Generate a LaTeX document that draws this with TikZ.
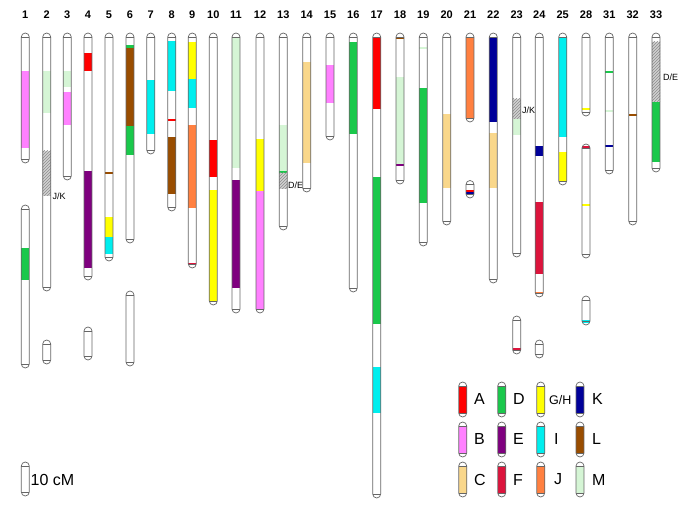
\documentclass[tikz,border=0pt]{standalone}
\usepackage{fontspec}
\setmainfont{Liberation Sans}
\usetikzlibrary{patterns}
\definecolor{cA}{HTML}{FF0000}
\definecolor{cB}{HTML}{FF80FF}
\definecolor{cC}{HTML}{F9D78B}
\definecolor{cD}{HTML}{1AC84B}
\definecolor{cE}{HTML}{7F007F}
\definecolor{cF}{HTML}{DC143C}
\definecolor{cG}{HTML}{FFFF00}
\definecolor{cI}{HTML}{00EEEE}
\definecolor{cJ}{HTML}{FF8040}
\definecolor{cK}{HTML}{000099}
\definecolor{cL}{HTML}{994D00}
\definecolor{cM}{HTML}{D5F5D5}
\tikzset{
  chrline/.style={draw=black!60, line width=0.7pt},
  numlabel/.style={font=\fontsize{11}{13}\selectfont\bfseries, inner sep=0pt},
  smalllabel/.style={font=\fontsize{9}{11}\selectfont, inner sep=0pt, anchor=west},
  leglabel/.style={font=\fontsize{16}{18}\selectfont, inner sep=0pt, anchor=west},
}
% chromosome outline: x, top, bottom (pixel coordinates, y downwards)
\newcommand{\chrm}[3]{%
  \draw[chrline] ({#1-4},{-(#2+4)}) arc[start angle=180,end angle=0,radius=4]
     -- ({#1+4},{-(#3-4)}) arc[start angle=0,end angle=-180,radius=4] -- cycle;
  \draw[chrline] ({#1-4},{-(#2+4)}) -- ({#1+4},{-(#2+4)})
                 ({#1-4},{-(#3-4)}) -- ({#1+4},{-(#3-4)});
}
% coloured segment: x, y1, y2, colour
\newcommand{\bnd}[4]{\fill[#4] ({#1-4},{-(#2)}) rectangle ({#1+4},{-(#3)});}
% hatched segment: x, y1, y2
\newcommand{\htch}[3]{%
  \fill[black!18] ({#1-4},{-(#2)}) rectangle ({#1+4},{-(#3)});
  \fill[pattern=north east lines, pattern color=black!45] ({#1-4},{-(#2)}) rectangle ({#1+4},{-(#3)});
}
\begin{document}
\begin{tikzpicture}[x=1pt,y=1pt]
\useasboundingbox (0,0) rectangle (685,-513);
\fill[white] (0,0) rectangle (685,-513);

% chromosome numbers
\foreach \xx/\lab in {25.3/1,46.7/2,67.3/3,88/4,109/5,130/6,150.7/7,171.7/8,192.3/9,213.3/10,
  236/11,260/12,283.3/13,306.7/14,330/15,353.3/16,376.7/17,400/18,423.3/19,446.7/20,
  470/21,493.3/22,516.7/23,539.3/24,562.7/25,586/28,609.3/31,632.7/32,656/33}
  \node[numlabel] (n\lab) at (\xx,-15) {\lab};

% 1
\bnd{25.3}{71}{148}{cB}
\chrm{25.3}{33}{163}
\bnd{25.3}{248}{280}{cD}
\chrm{25.3}{205}{368}
% 2
\bnd{46.7}{71}{113}{cM}
\htch{46.7}{151}{196}
\chrm{46.7}{33}{291}
\node[smalllabel] (jk2) at (52.5,-196) {J/K};
\chrm{46.7}{340}{364}
% 3
\bnd{67.3}{71}{87}{cM}
\bnd{67.3}{92}{125}{cB}
\chrm{67.3}{33}{180}
% 4
\bnd{88}{53}{71}{cA}
\bnd{88}{171}{268}{cE}
\chrm{88}{33}{280}
\chrm{88}{327}{360}
% 5
\bnd{109}{172.5}{174}{cL}
\bnd{109}{217}{237}{cG}
\bnd{109}{237}{254}{cI}
\chrm{109}{33}{261}
% 6
\bnd{130}{45.5}{48}{cD}
\bnd{130}{48}{126}{cL}
\bnd{130}{126}{155}{cD}
\chrm{130}{33}{243}
\chrm{130}{291}{366}
% 7
\bnd{150.7}{80}{134}{cI}
\chrm{150.7}{33}{154}
% 8
\bnd{171.7}{41}{91}{cI}
\bnd{171.7}{119}{121}{cA}
\bnd{171.7}{137}{194}{cL}
\chrm{171.7}{33}{211}
% 9
\bnd{192.3}{42}{79}{cG}
\bnd{192.3}{79}{108}{cI}
\bnd{192.3}{125}{208}{cJ}
\bnd{192.3}{262.5}{265}{cF}
\chrm{192.3}{33}{268}
% 10
\bnd{213.3}{140}{177}{cA}
\bnd{213.3}{190}{301}{cG}
\chrm{213.3}{33}{305}
% 11
\bnd{236}{37}{168}{cM}
\bnd{236}{180}{288}{cE}
\chrm{236}{33}{313}
% 12
\bnd{260}{139}{191}{cG}
\bnd{260}{191}{309}{cB}
\chrm{260}{33}{313}
% 13
\bnd{283.3}{125}{171}{cM}
\bnd{283.3}{171}{173}{cD}
\htch{283.3}{173}{189}
\chrm{283.3}{33}{230}
\node[smalllabel] (de13) at (288,-185) {D/E};
% 14
\bnd{306.7}{62}{163}{cC}
\chrm{306.7}{33}{192}
% 15
\bnd{330}{65}{103}{cB}
\chrm{330}{33}{140}
% 16
\bnd{353.3}{42}{134}{cD}
\chrm{353.3}{33}{292}
% 17
\bnd{376.7}{37}{109}{cA}
\bnd{376.7}{177}{324}{cD}
\bnd{376.7}{367}{413}{cI}
\chrm{376.7}{33}{498}
% 18
\bnd{400}{37}{39}{cL}
\bnd{400}{77}{164}{cM}
\bnd{400}{164}{166}{cE}
\chrm{400}{33}{184}
% 19
\bnd{423.3}{47}{49}{cM}
\bnd{423.3}{88}{203}{cD}
\chrm{423.3}{33}{246}
% 20
\bnd{446.7}{114}{188}{cC}
\chrm{446.7}{33}{225}
% 21
\bnd{470}{37}{119}{cJ}
\chrm{470}{33}{122}
\bnd{470}{190.5}{192.5}{cA}
\bnd{470}{192.5}{194.5}{cK}
\chrm{470}{180.5}{198}
% 22
\bnd{493.3}{37}{122}{cK}
\bnd{493.3}{133}{188}{cC}
\chrm{493.3}{33}{283}
% 23
\htch{516.7}{99}{119}
\bnd{516.7}{119}{135}{cM}
\chrm{516.7}{33}{257}
\node[smalllabel] (jk23) at (522,-110) {J/K};
\bnd{516.7}{347.5}{350}{cF}
\chrm{516.7}{316}{354}
% 24
\bnd{539.3}{146}{156}{cK}
\bnd{539.3}{202}{274}{cF}
\bnd{539.3}{291.5}{293.5}{cJ}
\chrm{539.3}{33}{297}
\chrm{539.3}{340}{358}
% 25
\bnd{562.7}{37}{137}{cI}
\bnd{562.7}{152}{182}{cG}
\chrm{562.7}{33}{185}
% 28
\bnd{586}{108}{110}{cG}
\chrm{586}{33}{116}
\bnd{586}{146}{148.5}{cF}
\bnd{586}{204}{206}{cG}
\chrm{586}{144}{258}
\bnd{586}{320}{322.5}{cI}
\chrm{586}{296}{325}
% 31
\bnd{609.3}{71}{73}{cD}
\bnd{609.3}{110}{112}{cM}
\bnd{609.3}{145}{147}{cK}
\chrm{609.3}{33}{174}
% 32
\bnd{632.7}{114}{116.5}{cL}
\chrm{632.7}{33}{225}
% 33
\htch{656}{42}{102}
\bnd{656}{102}{162}{cD}
\chrm{656}{33}{172}
\node[smalllabel] (de33) at (663,-77) {D/E};

% legend
\foreach \xx/\yy/\cc in {462.7/382/cA,501.7/382/cD,540.7/382/cG,580/382/cK,
                         462.7/422/cB,501.7/422/cE,540.7/422/cI,580/422/cL,
                         462.7/462/cC,501.7/462/cF,540.7/462/cJ,580/462/cM}{
  \bnd{\xx}{\yy+4}{\yy+31}{\cc}
  \chrm{\xx}{\yy}{\yy+35}
}
\node[leglabel] (lA) at (474,-399) {A};
\node[leglabel] (lD) at (513,-399) {D};
\node[leglabel, font=\fontsize{12.5}{14}\selectfont] (lG) at (549,-400) {G/H};
\node[leglabel] (lK) at (592,-399) {K};
\node[leglabel] (lB) at (474,-439) {B};
\node[leglabel] (lE) at (513,-439) {E};
\node[leglabel] (lI) at (554,-439) {I};
\node[leglabel] (lL) at (592,-439) {L};
\node[leglabel] (lC) at (474,-479.5) {C};
\node[leglabel] (lF) at (513,-479.5) {F};
\node[leglabel] (lJ) at (554,-479.5) {J};
\node[leglabel] (lM) at (592,-479.5) {M};

% scale bar
\chrm{25.3}{462}{496}
\node[leglabel] (scale) at (30.5,-480) {10 cM};
\end{tikzpicture}
\end{document}
